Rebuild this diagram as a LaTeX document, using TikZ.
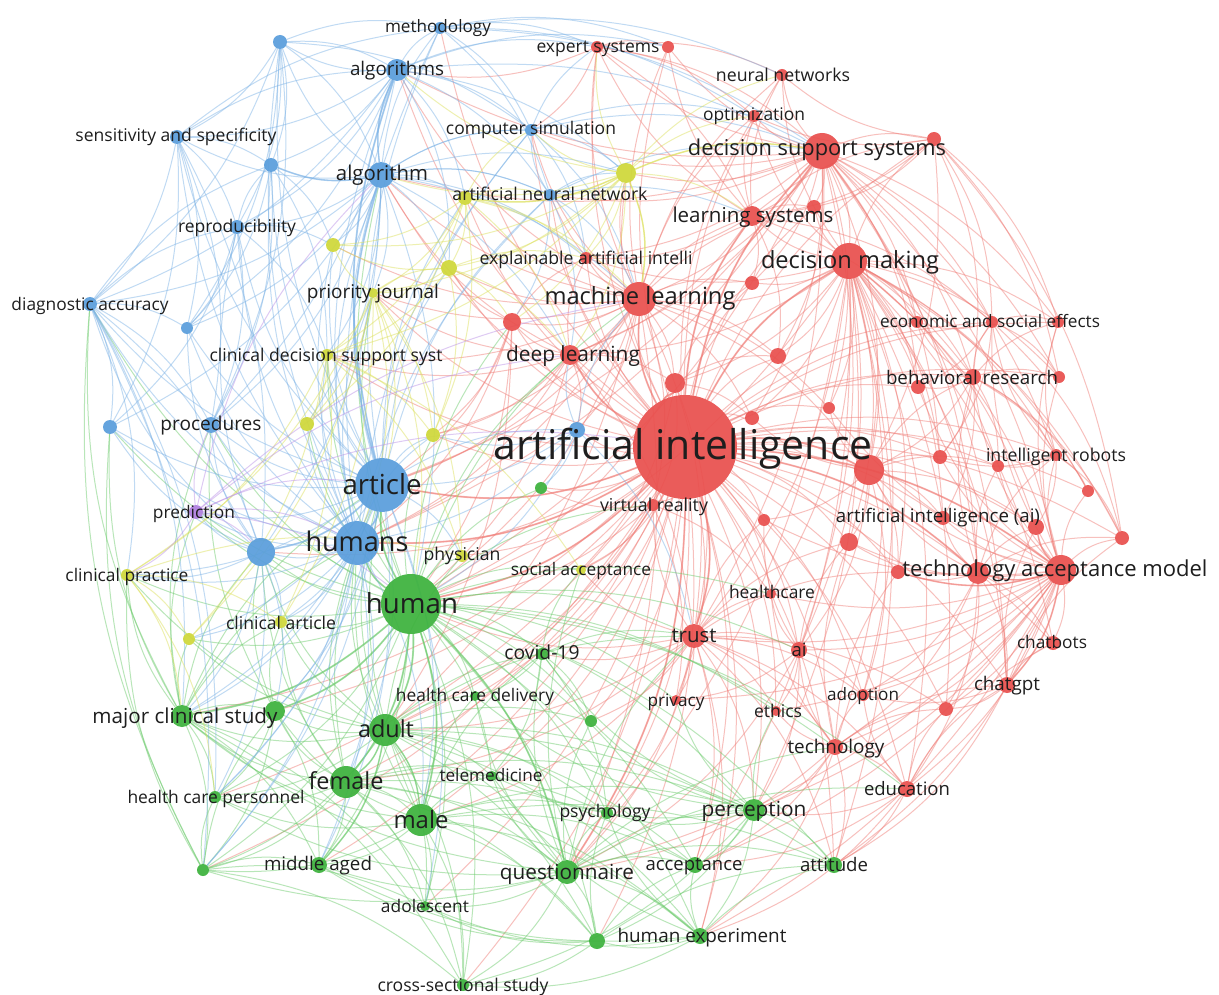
\documentclass[tikz,border=0pt]{standalone}
\usepackage{fontspec}
\setmainfont{Open Sans}
\usepackage{graphicx}
\usetikzlibrary{backgrounds}
\definecolor{cR}{HTML}{E9504E}
\definecolor{cB}{HTML}{5A9EDC}
\definecolor{cG}{HTML}{3DB23D}
\definecolor{cY}{HTML}{CFD83A}
\definecolor{cP}{HTML}{B07FE0}
\definecolor{eR}{HTML}{F07C76}
\definecolor{eB}{HTML}{7DB3E6}
\definecolor{eG}{HTML}{6CCB6C}
\definecolor{eY}{HTML}{DCE05A}
\definecolor{eP}{HTML}{BC92E8}
\definecolor{txt}{HTML}{1E1E1E}
\tikzset{
  kn/.style={circle,inner sep=0pt,outer sep=0pt,fill opacity=0.93},
  nR/.style={kn,fill=cR}, nB/.style={kn,fill=cB}, nG/.style={kn,fill=cG},
  nY/.style={kn,fill=cY}, nP/.style={kn,fill=cP},
  lbl/.style={inner sep=0pt,outer sep=0pt,text=txt},
  edge/.style={line width=1pt,opacity=0.48},
  edR/.style={edge,draw=eR}, edB/.style={edge,draw=eB}, edG/.style={edge,draw=eG},
  edY/.style={edge,draw=eY}, edP/.style={edge,draw=eP}
}
\newcommand\kw[5]{\node[n#5,minimum size=2*#4 pt] (#1) at (#2,#3) {};}
\newcommand\lb[5]{\node[lbl] (#1-l) at (#2,{#3+1.5}) {\resizebox{#4pt}{!}{\vphantom{Ag}#5}};}
\newcommand\fan[3]{\foreach \t in {#3} {\draw[#1] (#2) to[bend left=16] (\t);}}
\begin{document}
\begin{tikzpicture}[x=1pt,y=-1pt]
\useasboundingbox (0,0) rectangle (1219,995);
% ---------- blue
\kw{meth}{440}{28}{6}{B}
\kw{bUa}{280}{42}{7}{B}
\kw{algs}{397}{70}{11}{B}
\kw{csim}{531}{130}{6}{B}
\kw{sens}{177}{137}{7}{B}
\kw{bUb}{271}{165}{7}{B}
\kw{alg}{381}{175}{13}{B}
\kw{ann}{550}{195}{6}{B}
\kw{repro}{237}{227}{7}{B}
\kw{diag}{90}{304}{7}{B}
\kw{bUc}{187}{328}{6}{B}
\kw{bUd}{110}{427}{7}{B}
\kw{proc}{211}{425}{8}{B}
\kw{bUe}{577}{430}{8}{B}
\kw{art}{382}{485}{27}{B}
\kw{hums}{357}{543}{22}{B}
\kw{bUf}{261}{552}{14}{B}
% ---------- yellow
\kw{yUa}{626}{173}{10}{Y}
\kw{yUb}{465}{198}{7}{Y}
\kw{yUc}{333}{245}{7}{Y}
\kw{yUd}{449}{268}{8}{Y}
\kw{prio}{373}{293}{5}{Y}
\kw{cdss}{327}{355}{6}{Y}
\kw{yUe}{307}{424}{7}{Y}
\kw{yUf}{433}{435}{7}{Y}
\kw{phys}{462}{556}{6}{Y}
\kw{socacc}{581}{570}{5}{Y}
\kw{clinpr}{127}{575}{6}{Y}
\kw{clinart}{281}{622}{6}{Y}
\kw{yUg}{189}{639}{6}{Y}
% ---------- purple
\kw{pred}{196}{512}{7}{P}
% ---------- green
\kw{gUa}{541}{488}{6}{G}
\kw{hum}{411}{604}{30}{G}
\kw{covid}{542}{654}{6}{G}
\kw{hcd}{475}{696}{5}{G}
\kw{gUb}{591}{721}{6}{G}
\kw{mcs}{182}{716}{11}{G}
\kw{gUc}{275}{711}{10}{G}
\kw{adult}{385}{730}{16}{G}
\kw{female}{346}{782}{16}{G}
\kw{tele}{492}{776}{5}{G}
\kw{hcp}{215}{797}{6}{G}
\kw{male}{421}{820}{16}{G}
\kw{psych}{607}{813}{6}{G}
\kw{perc}{754}{810}{11}{G}
\kw{gUd}{203}{870}{6}{G}
\kw{mid}{319}{865}{8}{G}
\kw{quest}{567}{872}{12}{G}
\kw{accept}{695}{865}{8}{G}
\kw{att}{834}{865}{8}{G}
\kw{adol}{425}{906}{5}{G}
\kw{hexp}{700}{936}{8}{G}
\kw{gUe}{597}{941}{8}{G}
\kw{cross}{463}{985}{6}{G}
% ---------- red
\kw{expert}{597}{47}{6}{R}
\kw{rUa}{668}{47}{6}{R}
\kw{nn}{782}{75}{6}{R}
\kw{optim}{754}{116}{6}{R}
\kw{dss}{822}{151}{18}{R}
\kw{rUb}{934}{139}{7}{R}
\kw{rUc}{814}{207}{7}{R}
\kw{ls}{752}{216}{10}{R}
\kw{xai}{586}{258}{6}{R}
\kw{dm}{849}{261}{18}{R}
\kw{rUd}{752}{283}{7}{R}
\kw{ml}{639}{299}{17}{R}
\kw{rUe}{512}{322}{9}{R}
\kw{rUf}{917}{322}{6}{R}
\kw{econ}{992}{322}{6}{R}
\kw{rUg}{1058}{322}{6}{R}
\kw{dl}{570}{355}{10}{R}
\kw{rUh}{778}{356}{8}{R}
\kw{rUi}{918}{387}{7}{R}
\kw{behav}{973}{377}{8}{R}
\kw{rUj}{1059}{377}{6}{R}
\kw{rUk}{675}{383}{10}{R}
\kw{rUl}{829}{408}{6}{R}
\kw{rUm}{752}{418}{7}{R}
\kw{ai}{685}{447}{52}{R}
\kw{rUn}{869}{470}{15}{R}
\kw{rUo}{940}{457}{7}{R}
\kw{rUp}{998}{466}{6}{R}
\kw{robots}{1056}{455}{6}{R}
\kw{rUq}{1088}{491}{6}{R}
\kw{vr}{653}{505}{6}{R}
\kw{rUr}{764}{520}{6}{R}
\kw{aiai}{943}{518}{7}{R}
\kw{rUs}{1036}{527}{8}{R}
\kw{rUt}{1122}{538}{7}{R}
\kw{rUu}{849}{542}{9}{R}
\kw{rUv}{898}{572}{7}{R}
\kw{rUw}{978}{573}{11}{R}
\kw{tam}{1061}{570}{15}{R}
\kw{hc}{771}{594}{5}{R}
\kw{trust}{694}{636}{12}{R}
\kw{aiS}{799}{650}{8}{R}
\kw{chatb}{1053}{643}{7}{R}
\kw{chatg}{1007}{685}{8}{R}
\kw{priv}{676}{700}{5}{R}
\kw{adopt}{863}{695}{6}{R}
\kw{rUx}{946}{709}{7}{R}
\kw{ethics}{776}{711}{5}{R}
\kw{tech}{835}{747}{8}{R}
\kw{edu}{907}{789}{8}{R}
% ---------- edges
\begin{scope}[on background layer]
\fill[white] (0,0) rectangle (1219,995);
% red
\fan{edR}{ai}{expert,rUa,nn,optim,dss,rUb,rUc,ls,xai,dm,rUd,ml,rUe,rUf,econ,rUg,dl,rUh,rUi,behav,rUj,rUk,rUl,rUm,rUn,rUo,rUp,robots,rUq,vr,rUr,aiai,rUs,rUt,rUu,rUv,rUw,tam,hc,trust,aiS,chatb,chatg,priv,adopt,rUx,ethics,tech,edu}
\fan{edR}{ai}{hum,adult,female,male,quest,perc,accept,att,hexp,gUe,psych,covid,hcd,tele,socacc,phys,art,hums,alg,algs,bUe,gUa,yUa,yUd,mcs,cross,mid,adol,hcp,gUd,csim,ann,gUb,gUc,yUb,yUf,cdss,prio,bUf,meth}
\fan{edR,line width=1.8pt,opacity=0.55}{ai}{ml,dm,dss,tam,trust,dl,ls,rUk,rUn,hum,art,rUw,hums,quest}
\fan{edR}{dss}{ls,dm,rUb,rUc,optim,nn,expert,rUa,ml,xai,rUd,dl,rUh,econ,behav,tam,rUn,trust,aiS,rUl,rUm,hum,art,alg,algs,yUa,csim,rUi,rUw,chatg,rUo,rUf,rUg,rUj,robots,hums,ann}
\fan{edR}{dm}{ls,rUc,rUd,ml,econ,rUf,rUg,behav,rUi,rUj,rUn,rUo,tam,rUw,rUv,aiai,rUs,rUt,rUq,robots,rUp,trust,aiS,adopt,tech,edu,chatg,hum,rUh,rUl,rUm,hc,perc,quest,rUu,rUb,nn,optim,chatb,rUx,att,accept,xai,dl,rUk}
\fan{edR}{ml}{dl,rUe,xai,ls,rUd,rUk,rUh,expert,nn,optim,yUa,yUb,yUd,ann,alg,algs,art,hums,hum,cdss,prio,bUe,trust,rUm,vr,csim,rUa,rUc,rUl,rUn,yUc,yUf,adult,quest}
\fan{edR}{tam}{rUw,rUv,rUs,rUt,rUq,aiai,rUu,chatb,chatg,adopt,tech,edu,trust,aiS,rUx,robots,rUp,rUo,rUn,behav,perc,accept,att,quest,hexp,econ,rUr,hc,rUj,rUg,rUi,rUl,ethics,priv}
\fan{edR,line width=1.6pt,opacity=0.55}{tam}{rUw,rUv,rUs,chatg}
\fan{edR}{trust}{priv,ethics,aiS,adopt,hc,tech,perc,accept,quest,hexp,att,socacc,vr,rUr,hum,adult,covid,rUu,male,female,psych,gUb,edu,rUv,rUx}
\fan{edR}{tech}{edu,adopt,ethics,aiS,chatg,rUx,perc,att,accept,quest,hexp,hc,rUu,rUv}
\fan{edR}{rUw}{chatb,chatg,rUv,rUs,aiai,adopt,rUx,rUn,rUu,rUt,robots,rUp,behav,edu,tech}
\fan{edR}{edu}{chatg,adopt,rUx,att,perc,accept,hexp,chatb}
\fan{edR}{behav}{econ,rUi,rUj,rUf,rUg,rUo,rUp,robots,rUn,rUt,rUq,aiai}
\fan{edR}{robots}{rUp,rUq,rUo,rUt,econ,rUg,rUs}
\fan{edR}{chatg}{chatb,adopt,rUx,att,rUs,rUt}
\fan{edR}{ls}{rUc,optim,nn,rUd,dl,rUa,expert,xai,rUb,rUh,econ,behav}
\fan{edR}{rUn}{rUo,rUl,aiai,rUu,rUv,rUr,rUm,rUp,rUs,behav,adopt,aiS}
\fan{edR}{dl}{xai,rUe,rUk,art,hums,hum,bUe,yUf,alg,prio,cdss,trust}
\fan{edR}{rUb}{nn,optim,ls,rUc,behav,rUn,rUg,rUj,rUt,econ}
\fan{edR}{expert}{nn,optim,rUa,ls,csim,algs,dss}
\fan{edR}{rUk}{rUm,trust,hum,vr,rUh,rUd,socacc}
\fan{edR}{rUe}{xai,art,hums,hum,yUd,yUf,adult}
\fan{edR}{econ}{rUf,rUg,rUj,rUi,rUt,rUo}
\fan{edR}{aiS}{adopt,ethics,hc,priv,rUr,rUu,quest,perc}
\fan{edR}{vr}{hum,adult,socacc,gUa,priv,hc}
% blue to others
\fan{edB}{alg}{ml,dl,ann,csim,yUa,xai,hum}
\fan{edB}{ann}{ml,xai,dl,dss,ls,yUa,csim,rUe}
\fan{edB}{csim}{ml,expert,dss,optim,yUa,xai}
\fan{edB}{bUe}{ml,dl,art,hums,hum,gUa,trust,yUf}
% green
\fan{edG}{hum}{adult,female,male,mcs,gUc,mid,quest,covid,hcd,tele,hcp,gUd,adol,cross,psych,perc,accept,att,hexp,gUe,gUb,gUa,art,hums,bUf,proc,clinart,clinpr,yUg,phys,socacc,alg,diag,pred,trust,priv,ethics,tech,edu,aiS,ml,dl,rUe,yUf,yUe,cdss,prio,bUd,hc,vr}
\fan{edG,line width=1.8pt,opacity=0.55}{hum}{adult,female,male,hums,art,mcs,quest,gUc}
\fan{edG}{adult}{female,male,mcs,gUc,mid,quest,covid,hcd,tele,hcp,gUd,adol,cross,perc,psych,accept,hexp,gUe,att,art,hums,gUb,bUf,clinart,clinpr,yUg,trust,phys}
\fan{edG,line width=1.5pt,opacity=0.55}{adult}{female,male,mid}
\fan{edG}{female}{male,mcs,gUc,mid,hcp,gUd,adol,cross,quest,gUe,hexp,tele,perc,hums,art,bUf,clinart,psych,accept}
\fan{edG}{male}{mid,gUd,adol,cross,quest,gUe,hexp,perc,accept,att,psych,tele,mcs,gUc,hcp,hums,art,covid,hcd}
\fan{edG}{quest}{cross,gUe,hexp,accept,perc,att,psych,mid,adol,tele,covid,hcd,gUb,hcp,gUd,mcs,trust,tech,edu,socacc}
\fan{edG}{mcs}{gUc,hcp,gUd,mid,clinpr,yUg,clinart,bUf,hums,art,diag,bUd,proc,cross,adol,pred}
\fan{edG}{perc}{accept,att,hexp,gUe,psych,tele,gUb,covid,priv,ethics,hcd,cross}
\fan{edG}{hexp}{accept,att,gUe,cross,psych,mid,adol,tele}
\fan{edG}{gUe}{cross,accept,adol,mid,att,psych}
\fan{edG}{gUd}{mid,cross,hcp,adol,clinpr,diag,bUd,gUc}
\fan{edG}{covid}{hcd,tele,gUb,psych,socacc,trust}
\fan{edG}{gUc}{hcp,mid,gUd,clinart,bUf,proc}
% blue
\fan{edB}{art}{hums,alg,algs,meth,bUa,sens,bUb,repro,diag,bUc,bUd,proc,bUf,csim,ann,bUe,yUc,yUd,prio,cdss,yUe,yUf,pred,clinpr,clinart,phys,mcs,gUc,female,male,hcp,gUd,mid,adol,yUb,yUg}
\fan{edB,line width=1.8pt,opacity=0.55}{art}{hums,alg,algs,bUf}
\fan{edB}{hums}{alg,algs,meth,bUa,sens,bUb,repro,diag,bUc,bUd,proc,bUf,csim,ann,prio,cdss,pred,clinpr,clinart,yUg,mcs,gUc,hcp,female,gUd,yUc,yUe,yUf,male,mid}
\fan{edB}{alg}{algs,meth,bUa,sens,bUb,repro,diag,bUc,proc,csim,ann,yUb,yUc,yUd,bUd,bUf,prio,cdss,yUe}
\fan{edB,line width=1.6pt,opacity=0.55}{alg}{algs,bUb}
\fan{edB}{algs}{meth,bUa,sens,bUb,repro,csim,ann,diag,bUc,proc,expert,dss,yUa,yUb,yUd,rUa}
\fan{edB}{bUa}{meth,sens,bUb,repro,diag,algs,alg,csim,bUc,proc}
\fan{edB}{sens}{diag,repro,bUb,bUc,bUd,proc,bUf,meth,algs}
\fan{edB}{diag}{bUc,bUd,proc,repro,bUf,clinpr,mcs,gUd,hcp,bUb}
\fan{edB}{bUf}{proc,bUd,diag,pred,clinpr,clinart,mcs,gUc,hcp,bUc,repro}
\fan{edB}{meth}{csim,expert,nn,dss,ann,rUa,optim}
\fan{edB}{repro}{bUb,bUc,proc,bUd,cdss,yUc}
\fan{edB}{bUb}{bUc,proc,yUc,cdss}
% yellow
\fan{edY}{yUa}{ann,yUb,yUd,ml,dss,ls,xai,prio,cdss,alg,algs,csim,yUc,rUe,dl,expert,nn,optim}
\fan{edY,line width=1.5pt,opacity=0.55}{yUa}{yUb,ml,dss}
\fan{edY}{yUb}{yUc,yUd,prio,cdss,yUe,yUf,xai,ml,dl,ann,csim}
\fan{edY}{prio}{cdss,yUc,yUd,yUe,yUf,phys,clinpr,clinart,yUg,hum,art,hums}
\fan{edY}{cdss}{yUe,yUf,phys,clinpr,clinart,yUg,socacc}
\fan{edY}{clinpr}{yUg,clinart,phys,mcs,hcp}
\fan{edY}{yUd}{yUc,prio,cdss,yUf,xai,dl,rUe}
% purple
\fan{edP}{pred}{hums,art,bUf,hum,ai,ml,dl,clinpr,proc,alg}
\end{scope}
% ---------- labels
\lb{meth}{438}{27}{106}{methodology}
\lb{algs}{397}{69}{94}{algorithms}
\lb{expert}{598}{47}{123}{expert systems}
\lb{nn}{783}{75}{134}{neural networks}
\lb{optim}{754}{115}{102}{optimization}
\lb{csim}{531}{128}{170}{computer simulation}
\lb{sens}{176}{135}{201}{sensitivity and specificity}
\lb{dss}{817}{148}{258}{decision support systems}
\lb{alg}{382}{174}{92}{algorithm}
\lb{ann}{550}{194}{195}{artificial neural network}
\lb{ls}{753}{216}{161}{learning systems}
\lb{repro}{237}{226}{118}{reproducibility}
\lb{xai}{586}{258}{213}{explainable artificial intelli}
\lb{dm}{850}{261}{178}{decision making}
\lb{prio}{373}{292}{132}{priority journal}
\lb{ml}{640}{297}{191}{machine learning}
\lb{diag}{90}{304}{157}{diagnostic accuracy}
\lb{econ}{990}{321}{220}{economic and social effects}
\lb{cdss}{326}{355}{233}{clinical decision support syst}
\lb{dl}{573}{355}{134}{deep learning}
\lb{behav}{972}{378}{172}{behavioral research}
\lb{proc}{211}{424}{101}{procedures}
\lb{ai}{683}{447}{379}{artificial intelligence}
\lb{robots}{1056}{455}{140}{intelligent robots}
\lb{art}{382}{486}{79}{article}
\lb{pred}{194}{512}{82}{prediction}
\lb{vr}{654}{505}{108}{virtual reality}
\lb{aiai}{938}{516}{204}{artificial intelligence (ai)}
\lb{hums}{357}{543}{103}{humans}
\lb{phys}{462}{554}{77}{physician}
\lb{socacc}{581}{570}{140}{social acceptance}
\lb{clinpr}{127}{575}{123}{clinical practice}
\lb{tam}{1055}{569}{305}{technology acceptance model}
\lb{hc}{772}{592}{86}{healthcare}
\lb{hum}{412}{605}{92}{human}
\lb{clinart}{281}{623}{110}{clinical article}
\lb{trust}{694}{636}{45}{trust}
\lb{aiS}{799}{650}{15}{ai}
\lb{chatb}{1052}{643}{70}{chatbots}
\lb{covid}{542}{653}{75}{covid-19}
\lb{hcd}{475}{695}{158}{health care delivery}
\lb{priv}{676}{701}{57}{privacy}
\lb{adopt}{863}{695}{72}{adoption}
\lb{chatg}{1007}{684}{66}{chatgpt}
\lb{ethics}{778}{711}{48}{ethics}
\lb{mcs}{185}{717}{185}{major clinical study}
\lb{adult}{386}{730}{56}{adult}
\lb{tech}{836}{747}{97}{technology}
\lb{tele}{491}{776}{103}{telemedicine}
\lb{female}{346}{782}{75}{female}
\lb{edu}{907}{789}{86}{education}
\lb{hcp}{216}{797}{177}{health care personnel}
\lb{male}{421}{821}{55}{male}
\lb{psych}{605}{811}{91}{psychology}
\lb{perc}{754}{810}{105}{perception}
\lb{mid}{318}{864}{108}{middle aged}
\lb{quest}{567}{873}{134}{questionnaire}
\lb{accept}{694}{865}{97}{acceptance}
\lb{att}{834}{865}{68}{attitude}
\lb{adol}{425}{906}{88}{adolescent}
\lb{hexp}{702}{936}{169}{human experiment}
\lb{cross}{463}{985}{171}{cross-sectional study}
\end{tikzpicture}
\end{document}
